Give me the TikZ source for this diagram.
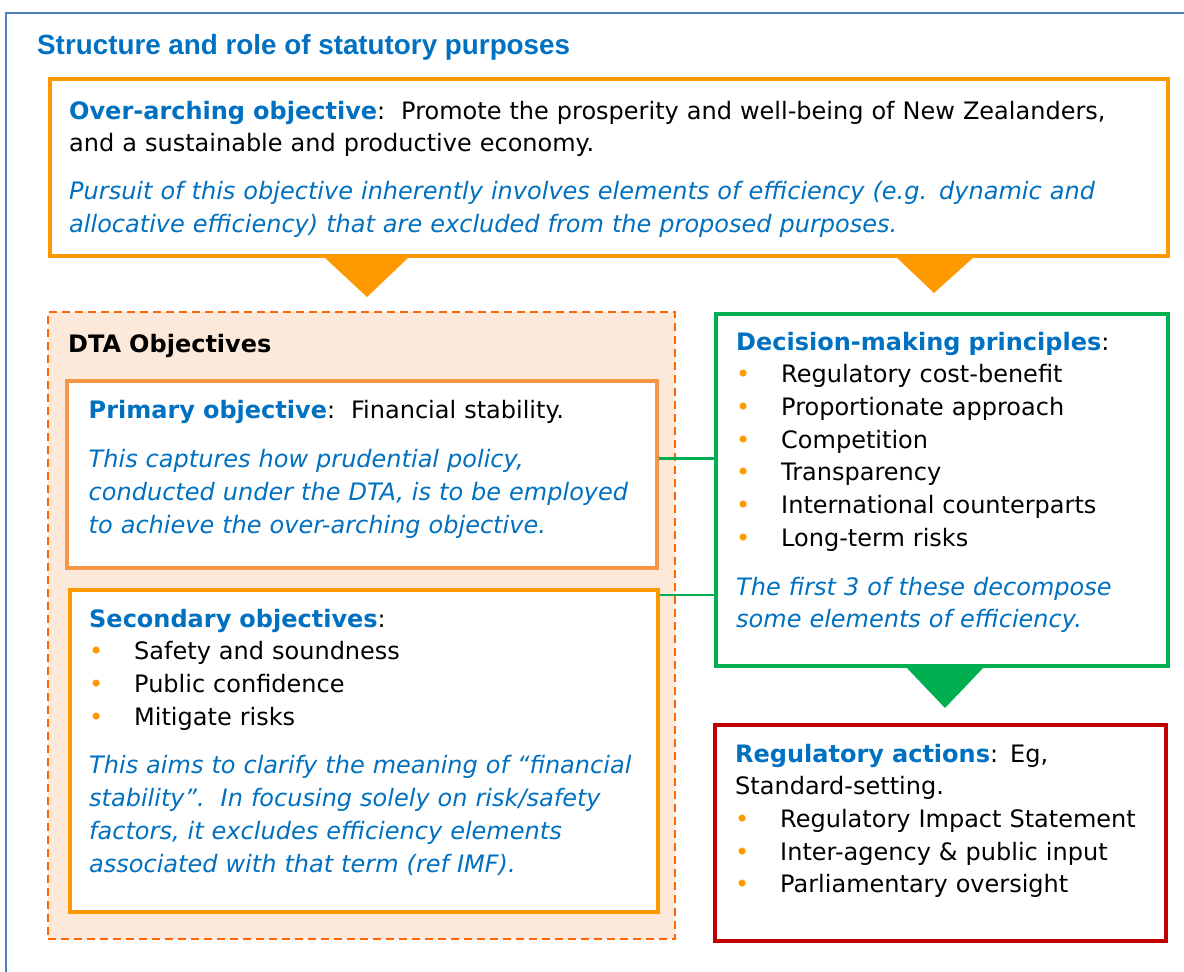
\documentclass[tikz,border=0pt]{standalone}
\usepackage{fontspec}
\setmainfont{DejaVu Sans}
\newfontfamily\headfont{Liberation Sans}

\definecolor{frameblue}{HTML}{4F81BD}
\definecolor{headblue}{HTML}{0070C0}
\definecolor{amber}{HTML}{FF9900}
\definecolor{softorange}{HTML}{F79646}
\definecolor{dashorange}{HTML}{FF6600}
\definecolor{peach}{HTML}{FDE9D9}
\definecolor{okgreen}{HTML}{00B050}
\definecolor{darkred}{HTML}{C00000}

\newcommand\bul{\makebox[45pt][l]{\textcolor{amber}{\textbullet}}}
\newcommand\hd[1]{\textbf{\textcolor{headblue}{#1}}}
\newcommand\note[1]{\textit{\textcolor{headblue}{#1}}}

\begin{document}
\begin{tikzpicture}[x=1pt,y=-1pt,
  box/.style={draw, line width=4pt, fill=white, inner sep=0pt, outer sep=0pt},
  txt/.style={anchor=north west, inner sep=0pt, align=left, text width=1100pt,
    font=\fontsize{24}{32.7}\selectfont},
  link/.style={draw=okgreen, line width=2.5pt, shorten <=2pt, shorten >=2pt}]
\useasboundingbox (0,0) rectangle (1184,972);
\fill[white] (0,0) rectangle (1184,972);

% outer frame, open towards the right and bottom
\draw[frameblue, line width=2.5pt] (6,980) -- (6,13) -- (1190,13);

\node[anchor=base west, inner sep=0pt, text=headblue,
  font=\headfont\bfseries\fontsize{27.8}{33}\selectfont] (title) at (37,54)
  {Structure and role of statutory purposes};

% over-arching objective
\node[box, draw=amber, minimum width=1118pt, minimum height=177pt] (over) at (609,167.5) {};
\fill[amber] (323,256) -- (410,256) -- (367,297) -- cycle;
\fill[amber] (895,256) -- (975,256) -- (934,293) -- cycle;
\node[txt] (overtext) at (69,96.1) {%
  \strut\hd{Over-arching objective}:\ \ Promote the prosperity and well-being of New Zealanders,\\
  and a sustainable and productive economy.\\[15pt]
  \note{Pursuit of this objective inherently involves elements of efficiency (e.g. dynamic and}\\
  \note{allocative efficiency) that are excluded from the proposed purposes.}};

% DTA objectives group
\node[draw=dashorange, fill=peach, line width=2.5pt, dash pattern=on 8pt off 5pt,
  inner sep=0pt, outer sep=0pt, minimum width=627pt, minimum height=627pt] (dta) at (361.5,625.5) {};
\node[txt, font=\bfseries\fontsize{24}{32.7}\selectfont] (dtatitle) at (68,329.1) {\strut DTA Objectives};

\node[box, draw=softorange, minimum width=590pt, minimum height=187pt] (prim) at (362,474.5) {};
\node[txt] (primtext) at (88.5,395.1) {%
  \strut\hd{Primary objective}:\ \ Financial stability.\\[17pt]
  \note{This captures how prudential policy,}\\
  \note{conducted under the DTA, is to be employed}\\
  \note{to achieve the over-arching objective.}};

\node[box, draw=amber, minimum width=588pt, minimum height=322pt] (sec) at (364,751) {};
\node[txt] (sectext) at (89,604.1) {%
  \strut\hd{Secondary objectives}:\\
  \bul Safety and soundness\\
  \bul Public confidence\\
  \bul Mitigate risks\\[16pt]
  \note{This aims to clarify the meaning of “financial}\\
  \note{stability”.\ \ In focusing solely on risk/safety}\\
  \note{factors, it excludes efficiency elements}\\
  \note{associated with that term (ref IMF).}};

% decision-making principles
\node[box, draw=okgreen, minimum width=452pt, minimum height=352pt] (dec) at (942,490) {};
\fill[okgreen] (905,666) -- (985,666) -- (945,708) -- cycle;
\node[txt] (dectext) at (736,327.1) {%
  \strut\hd{Decision-making principles}:\\
  \bul Regulatory cost-benefit\\
  \bul Proportionate approach\\
  \bul Competition\\
  \bul Transparency\\
  \bul International counterparts\\
  \bul Long-term risks\\[16pt]
  \note{The first 3 of these decompose}\\
  \note{some elements of efficiency.}};

% regulatory actions
\node[box, draw=darkred, minimum width=451pt, minimum height=216pt] (reg) at (940.5,833) {};
\node[txt] (regtext) at (735,739.1) {%
  \strut\hd{Regulatory actions}: Eg,\\
  Standard-setting.\\
  \bul Regulatory Impact Statement\\
  \bul Inter-agency \& public input\\
  \bul Parliamentary oversight};

% links from the DTA objectives to the principles
\draw[link] ([yshift=16pt]prim.east) -- ([yshift=16pt]prim.east -| dec.west);
\draw[link] ([yshift=-5pt]sec.north east) -- ([yshift=-5pt]sec.north east -| dec.west);
\end{tikzpicture}
\end{document}
